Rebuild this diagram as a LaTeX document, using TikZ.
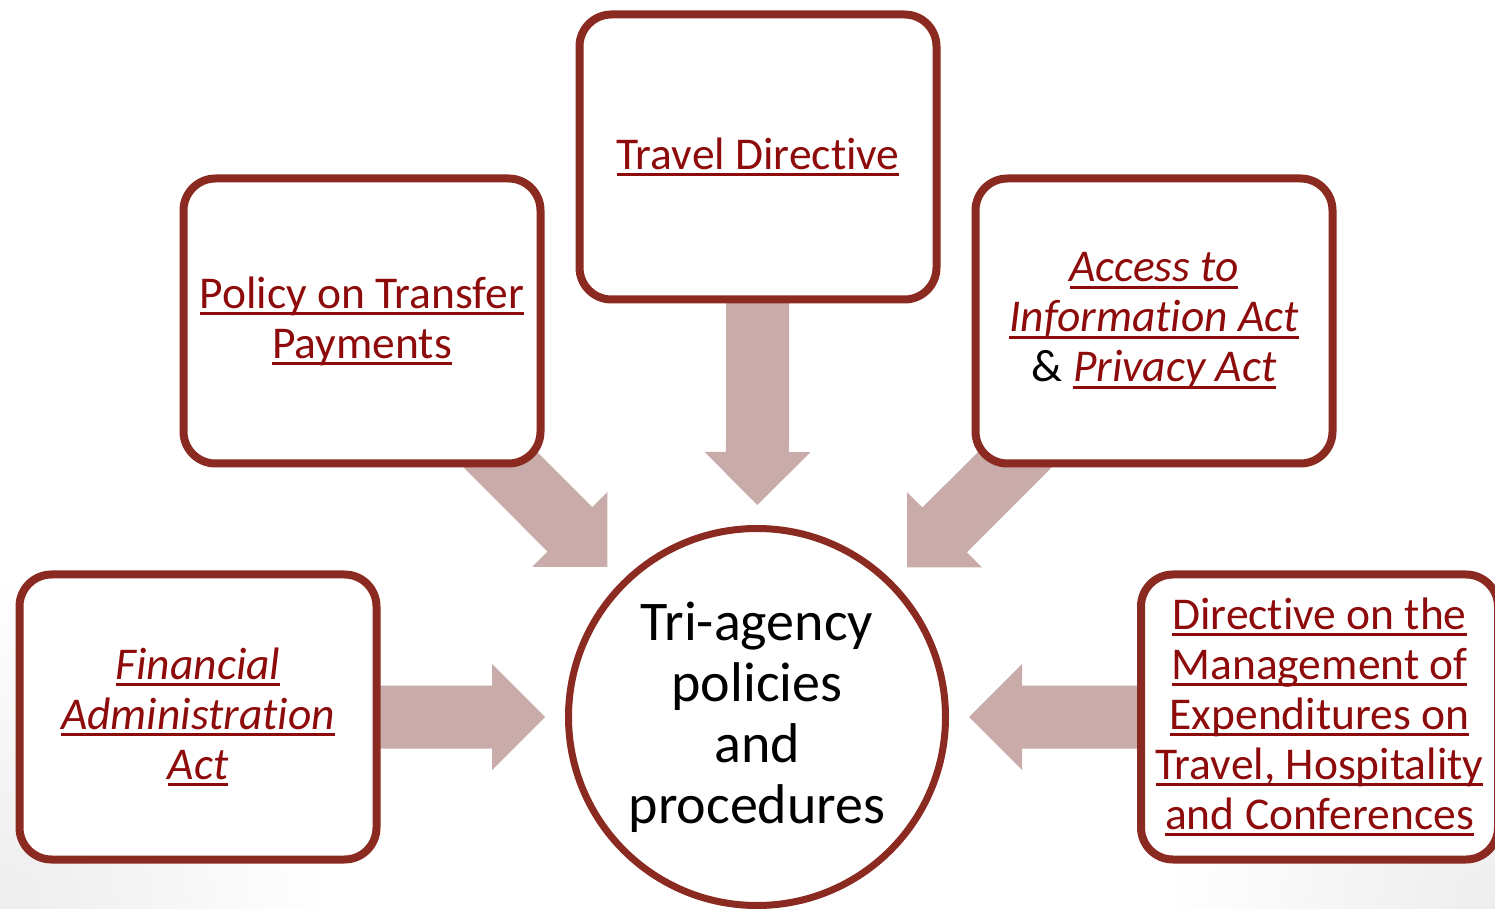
\documentclass[tikz,border=0pt]{standalone}
\usepackage{fontspec}
\setmainfont{Carlito}[Ligatures={NoCommon,NoRequired,NoContextual},RawFeature={-liga;-clig;-dlig}]
\usetikzlibrary{calc,backgrounds}
\definecolor{linkred}{HTML}{8E0B0B}
\definecolor{boxred}{HTML}{8B2A20}
\definecolor{arrowfill}{HTML}{C9ACAA}
\newcommand\myul[1]{\setbox0=\hbox{#1}\rlap{\color{linkred}\rule[-0.16em]{\wd0}{0.065em}}\box0}
\newcommand\blockarrow[2]{% from node #1 to node #2
  \coordinate (#1-t) at ($(#2.center)!212pt!(#1.center)$);
  \coordinate (#1-h) at ($(#2.center)!265pt!(#1.center)$);
  \fill[arrowfill] (#1-t)
    -- ($(#1-h)!53pt!90:(#1.center)$)
    -- ($(#1-h)!31.5pt!90:(#1.center)$)
    -- ($(#1.center)!31.5pt!-90:(#2.center)$)
    -- ($(#1.center)!31.5pt!90:(#2.center)$)
    -- ($(#1-h)!31.5pt!-90:(#1.center)$)
    -- ($(#1-h)!53pt!-90:(#1.center)$)
    -- cycle;}
\tikzset{
  srcbox/.style={draw=boxred, line width=8pt, fill=white, rounded corners=32pt,
    minimum width=357pt, minimum height=285pt, inner sep=0pt, align=center,
    text=linkred, font=\fontsize{45.5}{50}\selectfont},
  hub/.style={draw=boxred, line width=7pt, fill=white, circle, minimum size=377pt,
    inner sep=0pt, align=center, text=black, font=\fontsize{56}{61}\selectfont}
}
\begin{document}
\begin{tikzpicture}[x=1pt,y=1pt]
\useasboundingbox (0,0) rectangle (1495,908);
\node[hub] (c) at (757,191) {Tri-agency\\policies\\and\\procedures};
\node[srcbox] (td) at (758,751) {\myul{Travel Directive}};
\node[srcbox] (pt) at (362,587) {\myul{Policy on Transfer}\\\myul{Payments}};
\node[srcbox] (ai) at (1154,587) {\myul{\itshape Access to}\\\myul{\itshape Information Act}\\{\color{black}\&} \myul{\itshape Privacy Act}};
\node[srcbox] (fa) at (198,191) {\myul{\itshape Financial}\\\myul{\itshape Administration}\\\myul{\itshape Act}};
\node[srcbox] (dm) at (1319.5,191) {\myul{Directive on the}\\\myul{Management of}\\\myul{Expenditures on}\\\myul{Travel, Hospitality}\\\myul{and Conferences}};
\begin{scope}[on background layer]
  \fill[white] (0,0) rectangle (1495,908);
  \shade[inner color=black!7, outer color=white] (0,0) circle (330);
  \shade[inner color=black!7, outer color=white] (1495,0) circle (330);
  \blockarrow{td}{c}
  \blockarrow{pt}{c}
  \blockarrow{ai}{c}
  \blockarrow{fa}{c}
  \blockarrow{dm}{c}
\end{scope}
\end{tikzpicture}
\end{document}
